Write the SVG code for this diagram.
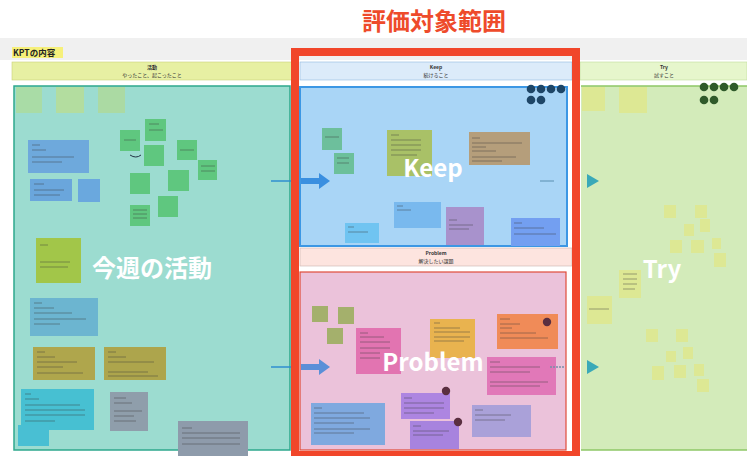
<svg xmlns="http://www.w3.org/2000/svg" width="747" height="456" viewBox="0 0 747 456">
<style>
.hd{font-family:"Noto Sans CJK JP","Noto Sans",sans-serif;fill:#333;text-anchor:middle}
.big{font-family:"Noto Sans CJK JP","Open Sans","Noto Sans",sans-serif;font-weight:700;fill:#fff;text-anchor:middle;font-size:24px}
.ln{stroke:#3a3a3a;stroke-width:0.8;opacity:0.55}
.gn{fill:#5fc77f}
.tn{fill:#dde894}
</style>
<rect width="747" height="456" fill="#ffffff"/>
<rect x="0" y="38" width="747" height="22" fill="#f0f0f0"/>
<g id="title"><text x="434" y="30" font-family="Noto Sans CJK JP,sans-serif" font-size="24" font-weight="700" fill="#ee4b2b" text-anchor="middle">評価対象範囲</text></g>
<g id="kpt-label"><rect x="12" y="47" width="51" height="11" fill="#f6f07a"/><text x="13" y="56" font-family="Noto Sans CJK JP,sans-serif" font-size="8.5" font-weight="700" fill="#222">KPTの内容</text></g>

<g id="headers">
<rect x="12" y="62" width="280" height="18" fill="#e7f0a3" stroke="#c9d27a" stroke-width="0.6"/>
<text class="hd" x="152" y="69" font-size="5" font-weight="700">活動</text>
<text class="hd" x="152" y="76.5" font-size="5" fill="#666">やったこと、起こったこと</text>
<rect x="300" y="62" width="272" height="18" fill="#dcebfa" stroke="#8fb7df" stroke-width="0.6"/>
<text class="hd" x="436" y="69" font-size="5" font-weight="700">Keep</text>
<text class="hd" x="436" y="76.5" font-size="5" fill="#666">続けること</text>
<rect x="580" y="62" width="167" height="18" fill="#e6f6cc" stroke="#bfdc9a" stroke-width="0.6"/>
<text class="hd" x="664" y="69" font-size="5" font-weight="700">Try</text>
<text class="hd" x="664" y="76.5" font-size="5" fill="#666">試すこと</text>
</g>

<g id="activity">
<rect x="14" y="86" width="276" height="364" fill="#9cdcd0" stroke="#2ea88d" stroke-width="1.5"/>
<rect x="16" y="87" width="26" height="26" fill="#a9dca6"/>
<rect x="56" y="87" width="28" height="26" fill="#b3dd9f"/>
<rect x="98" y="87" width="27" height="26" fill="#abdaa3"/>
<rect class="gn" x="120" y="130" width="20" height="21"/>
<rect class="gn" x="145" y="119" width="21" height="22"/>
<rect class="gn" x="144" y="145" width="20" height="21"/>
<rect class="gn" x="177" y="140" width="20" height="20"/>
<rect class="gn" x="198" y="160" width="19" height="20"/>
<rect class="gn" x="130" y="173" width="20" height="21"/>
<rect class="gn" x="168" y="170" width="21" height="21"/>
<rect class="gn" x="130" y="205" width="20" height="21"/>
<rect class="gn" x="158" y="196" width="20" height="21"/>
<path d="M130,155 q6,4 11,0" fill="none" stroke="#234" stroke-width="1"/>
<rect x="28" y="140" width="61" height="33" fill="#6ea9dc"/>
<rect x="30" y="179" width="42" height="22" fill="#6aa6dc"/>
<rect x="78" y="179" width="22" height="23" fill="#6aa8de"/>
<rect x="36" y="238" width="45" height="45" fill="#a2c649"/>
<rect x="30" y="298" width="68" height="38" fill="#6cb5d0"/>
<rect x="33" y="347" width="62" height="33" fill="#afa64c"/>
<rect x="104" y="347" width="62" height="33" fill="#ada54c"/>
<rect x="21" y="389" width="73" height="41" fill="#47c0d2"/>
<rect x="18" y="425" width="31" height="21" fill="#49bfd3"/>
<rect x="110" y="392" width="38" height="39" fill="#8f9eab"/>
<rect x="178" y="421" width="70" height="35" fill="#8e9bab"/>
<g class="ln">
<path d="M32,145h8M32,150h14M32,157h42M32,162h30"/>
<path d="M34,184h10M34,190h30M34,195h26"/>
<path d="M40,245h8M40,262h30M40,267h28"/>
<path d="M34,303h8M34,308h20M34,313h38M34,319h52M34,324h26"/>
<path d="M37,352h8M37,357h18M37,362h40M37,367h26M37,373h46"/>
<path d="M108,352h8M108,357h18M108,362h46M108,372h40M108,376h50"/>
<path d="M25,394h6M25,399h14M25,405h55M25,410h60M25,415h60M25,421h30"/>
<path d="M114,398h12M114,403h18M114,411h28M114,416h20M114,421h22"/>
<path d="M182,428h10M182,433h58M182,438h58M182,444h58"/>
<path d="M124,140h12M149,124h10M149,130h14M180,150h14M201,166h14M201,171h14"/>
<path d="M133,218h14M133,214h14M133,210h14"/>
</g>
<text class="big" x="152" y="277">今週の活動</text>
</g>

<g id="keep">
<rect x="300" y="87" width="267" height="159" fill="#a9d5f6" stroke="#3c97e4" stroke-width="2"/>
<rect x="322" y="128" width="20" height="22" fill="#6dbf9c"/>
<rect x="334" y="153" width="20" height="21" fill="#6cc09b"/>
<rect x="387" y="130" width="45" height="46" fill="#a9c167"/>
<rect x="469" y="132" width="61" height="33" fill="#b59e7b"/>
<rect x="345" y="223" width="34" height="20" fill="#70c4f1"/>
<rect x="394" y="202" width="47" height="26" fill="#79b9ee"/>
<rect x="446" y="207" width="38" height="38" fill="#a892cc"/>
<rect x="511" y="218" width="49" height="28" fill="#739ff1"/>
<g class="ln">
<path d="M391,135h8M391,140h30M391,145h30M391,150h30M391,155h26"/>
<path d="M472,138h8M472,143h50M472,147h14M472,151h24M472,157h44M472,161h30"/>
<path d="M325,137h14M337,158h12M337,163h12"/>
<path d="M348,227h6M348,232h20M397,206h6M397,210h14M449,220h8M449,225h24M449,229h20M514,223h8M514,228h30M514,234h42"/>
</g>
<circle cx="531" cy="89" r="4.3" fill="#1e4667"/>
<circle cx="541" cy="89" r="4.3" fill="#1e4667"/>
<circle cx="551" cy="89" r="4.3" fill="#1e4667"/>
<circle cx="561" cy="89" r="4.3" fill="#1e4667"/>
<circle cx="531" cy="100" r="4.3" fill="#1e4667"/>
<circle cx="541" cy="100" r="4.3" fill="#1e4667"/>
<text class="big" x="433" y="177">Keep</text>
</g>

<g id="problem-header">
<rect x="300" y="248" width="272" height="18" fill="#fde4df" stroke="#c9b3b0" stroke-width="0.6"/>
<text class="hd" x="436" y="255" font-size="5" font-weight="700">Problem</text>
<text class="hd" x="436" y="262.5" font-size="5" fill="#666">解決したい課題</text>
</g>

<g id="problem">
<rect x="300" y="272" width="266" height="178" fill="#ebc2da" stroke="#e04b3a" stroke-width="1.2"/>
<rect x="312" y="306" width="16" height="16" fill="#a4b06c"/>
<rect x="338" y="307" width="16" height="17" fill="#a4b06c"/>
<rect x="327" y="328" width="16" height="16" fill="#a4b06c"/>
<rect x="356" y="328" width="45" height="46" fill="#e274b1"/>
<rect x="430" y="319" width="45" height="39" fill="#e9b34f"/>
<rect x="497" y="314" width="61" height="35" fill="#f08b58"/>
<rect x="487" y="357" width="69" height="38" fill="#e178b8"/>
<rect x="311" y="403" width="74" height="42" fill="#7fa9df"/>
<rect x="401" y="393" width="49" height="26" fill="#ad85e1"/>
<rect x="410" y="421" width="49" height="28" fill="#a783de"/>
<rect x="472" y="405" width="59" height="32" fill="#aaa1d9"/>
<g class="ln">
<path d="M360,333h8M360,337h24M360,342h30M360,348h30M360,353h20M360,358h20"/>
<path d="M434,323h6M434,328h26M434,332h36M434,337h36M434,341h30"/>
<path d="M500,319h10M500,324h20M500,328h12M500,333h36M500,338h48"/>
<path d="M490,362h10M490,367h50M490,372h40M490,382h58M490,386h50"/>
<path d="M314,408h8M314,413h50M314,418h56M314,423h40M314,429h56M314,433h40"/>
<path d="M404,398h8M404,403h40M404,408h40M404,413h30M413,426h8M413,431h36M413,435h30"/>
<path d="M475,410h8M475,415h36M475,420h30"/>
</g>
<circle cx="547" cy="322" r="4.2" fill="#5a2f40"/>
<circle cx="446" cy="391" r="4.2" fill="#5a2f40"/>
<circle cx="458" cy="422" r="4.2" fill="#5a2f40"/>
<text class="big" x="433" y="371">Problem</text>
</g>

<g id="try">
<rect x="581" y="86" width="166" height="364" fill="#d3ebba"/>
<path d="M581,86h166M581,450h166" stroke="#8fc767" stroke-width="1.5"/>
<rect class="tn" x="582" y="87" width="23" height="24"/>
<rect class="tn" x="619" y="87" width="28" height="26"/>
<rect class="tn" x="664" y="205" width="12" height="13"/>
<rect class="tn" x="695" y="205" width="12" height="13"/>
<rect class="tn" x="684" y="224" width="10" height="12"/>
<rect class="tn" x="700" y="219" width="10" height="13"/>
<rect class="tn" x="670" y="240" width="12" height="13"/>
<rect class="tn" x="691" y="240" width="13" height="13"/>
<rect class="tn" x="712" y="238" width="9" height="11"/>
<rect class="tn" x="714" y="253" width="12" height="14"/>
<rect class="tn" x="619" y="270" width="22" height="28"/>
<rect class="tn" x="587" y="296" width="25" height="28"/>
<rect class="tn" x="646" y="329" width="12" height="13"/>
<rect class="tn" x="676" y="329" width="12" height="13"/>
<rect class="tn" x="666" y="351" width="10" height="11"/>
<rect class="tn" x="683" y="347" width="10" height="12"/>
<rect class="tn" x="652" y="366" width="12" height="14"/>
<rect class="tn" x="674" y="365" width="12" height="13"/>
<rect class="tn" x="694" y="364" width="10" height="12"/>
<rect class="tn" x="697" y="379" width="12" height="13"/>
<g class="ln"><path d="M623,274h14M623,279h14M623,284h14M623,289h12M589,309h20"/></g>
<circle cx="704" cy="87" r="4.3" fill="#2f5a2a"/>
<circle cx="714" cy="87" r="4.3" fill="#2f5a2a"/>
<circle cx="724" cy="87" r="4.3" fill="#2f5a2a"/>
<circle cx="734" cy="87" r="4.3" fill="#2f5a2a"/>
<circle cx="704" cy="100" r="4.3" fill="#2f5a2a"/>
<circle cx="714" cy="100" r="4.3" fill="#2f5a2a"/>
<text class="big" x="662" y="278">Try</text>
</g>

<g id="connectors">
<path d="M271,181h20M271,367h20" stroke="#2f8fcf" stroke-width="1.5"/>
<path d="M301,178h18v-5l11,8l-11,8v-5h-18z" fill="#3a8fe0"/>
<path d="M301,364h18v-5l11,8l-11,8v-5h-18z" fill="#5a8fd8"/>
<path d="M540,181h14" stroke="#5a8fb0" stroke-width="1"/>
<path d="M550,367h14" stroke="#7a8fa8" stroke-width="1.5" stroke-dasharray="2,1"/>
<path d="M587,174l12,7l-12,7z" fill="#3aa9b8"/>
<path d="M587,360l12,7l-12,7z" fill="#3aa9b8"/>
</g>

<g id="scope-frame">
<rect x="295" y="52" width="281" height="403" fill="none" stroke="#f1462a" stroke-width="8"/>
</g>
</svg>
